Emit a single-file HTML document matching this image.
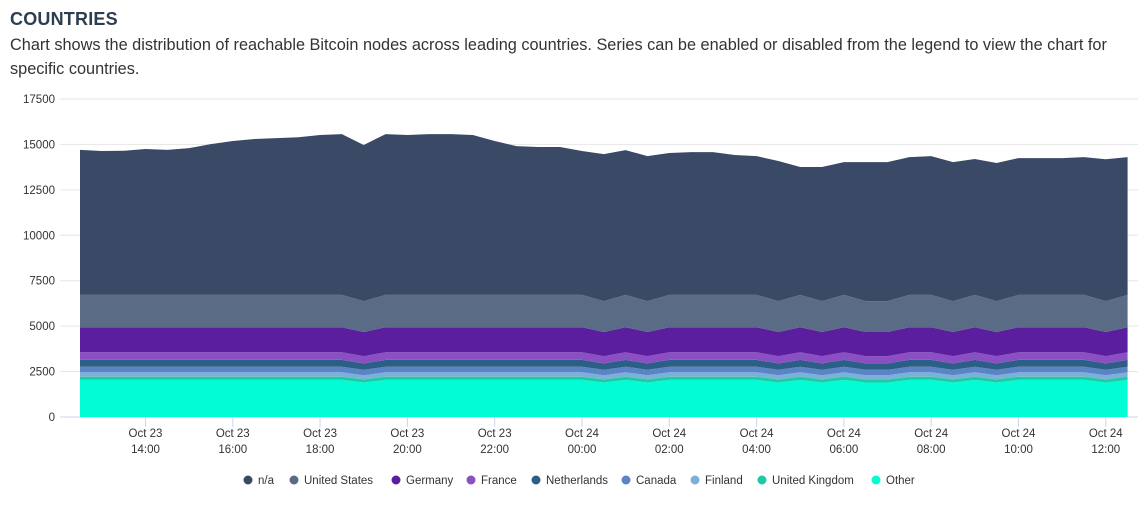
<!DOCTYPE html>
<html><head><meta charset="utf-8">
<style>
body{margin:0;width:1141px;height:521px;background:#fff;font-family:"Liberation Sans",sans-serif;overflow:hidden;position:relative}
h1{position:absolute;left:10px;top:9px;margin:0;font-size:18px;font-weight:bold;color:#2c3e50;letter-spacing:0.2px}
p{position:absolute;left:10px;top:33px;margin:0;width:1125px;font-size:16.3px;line-height:24px;color:#333}
svg{position:absolute;left:0;top:0}
</style></head><body>
<h1>COUNTRIES</h1>
<p>Chart shows the distribution of reachable Bitcoin nodes across leading countries. Series can be enabled or disabled from the legend to view the chart for specific countries.</p>
<svg id="c" width="1141" height="521"></svg>
<script>
const seriesNames=["n/a","United States","Germany","France","Netherlands","Canada","Finland","United Kingdom","Other"];
const seriesColors=["#3a4a66","#5a6b86","#5b1e9f","#8b4fc4","#2b5f86","#5b84c4","#79b1d8","#1ec9a5","#02fdd5"];
const naVals=[7980,7920,7930,8030,7980,8080,8300,8470,8580,8630,8680,8800,8850,8590,8850,8800,8850,8850,8800,8470,8190,8140,8140,7920,8090,7970,7980,7810,7860,7860,7700,7640,7710,7040,7380,7310,7650,7650,7580,7640,7650,7480,7600,7530,7530,7530,7580,7800,7580];
const dips=[13,24,26,32,34,36,37,40,42,47];
function mk(n,d){const a=[];for(let i=0;i<49;i++)a.push(dips.includes(i)?d:n);return a;}
const usVals=mk(1780,1700);
const deVals=mk(1380,1330);
const frVals=mk(420,400);
const nlVals=mk(370,350);
const caVals=mk(310,300);
const fiVals=mk(240,230);
const ukVals=mk(180,170);
const otherVals=mk(2040,1900);
const series=[naVals,usVals,deVals,frVals,nlVals,caVals,fiVals,ukVals,otherVals];
const yTicks=[0,2500,5000,7500,10000,12500,15000,17500];
const xTickLabels=[["Oct 23","14:00"],["Oct 23","16:00"],["Oct 23","18:00"],["Oct 23","20:00"],["Oct 23","22:00"],["Oct 24","00:00"],["Oct 24","02:00"],["Oct 24","04:00"],["Oct 24","06:00"],["Oct 24","08:00"],["Oct 24","10:00"],["Oct 24","12:00"]];
const xTickHours=[1.5,3.5,5.5,7.5,9.5,11.5,13.5,15.5,17.5,19.5,21.5,23.5];
const NS="http://www.w3.org/2000/svg";
const svg=document.getElementById('c');
const X0=80,PX_H=43.65,Y0=417,Y1=99,YMAX=17500;
const xs=h=>X0+h*PX_H;
const ys=v=>Y0-(v/YMAX)*(Y0-Y1);
function el(t,a){const e=document.createElementNS(NS,t);for(const k in a)e.setAttribute(k,a[k]);svg.appendChild(e);return e;}
yTicks.forEach(v=>{
  const g=el('line',{x1:60,x2:1138,y1:ys(v),y2:ys(v),stroke:v===0?'#ccd6eb':'#e6e6e6','stroke-width':1});
  
  
  const t=el('text',{x:55,y:ys(v)+4,'text-anchor':'end','font-size':11.5,fill:'#333'});
  t.textContent=v;
  
  
});
const n=naVals.length;
let base=new Array(n).fill(0);
const layers=[];
for(let s=series.length-1;s>=0;s--){
  const top=base.map((b,i)=>b+series[s][i]);
  layers.push({s,lo:base.slice(),hi:top});
  base=top;
}
layers.forEach(L=>{
  let d='';
  for(let i=0;i<n;i++)d+=(i?'L':'M')+xs(i*0.5).toFixed(1)+','+ys(L.hi[i]).toFixed(1);
  for(let i=n-1;i>=0;i--)d+='L'+xs(i*0.5).toFixed(1)+','+ys(L.lo[i]).toFixed(1);
  const p=el('path',{d:d+'Z',fill:seriesColors[L.s]});
  
  
});
xTickLabels.forEach((lb,i)=>{
  const x=xs(xTickHours[i]);
  const tk=el('line',{x1:x,x2:x,y1:417,y2:427,stroke:'#ccd6eb'});
  
  
  lb.forEach((s,j)=>{
    const t=el('text',{x:x,y:437+j*16,'text-anchor':'middle','font-size':11.5,fill:'#333'});
    t.textContent=s;
    
    
  });
});
const legendX=[248,294,396,471,536,626,695,762,876];
seriesNames.forEach((nm,i)=>{
  const lx=legendX[i];
  const c=el('circle',{cx:lx,cy:480,r:4.5,fill:seriesColors[i]});
  
  
  const t=el('text',{x:lx+10,y:484,'font-size':11.5,fill:'#333'});
  t.textContent=nm;
  
  
});
</script>
</body></html>
